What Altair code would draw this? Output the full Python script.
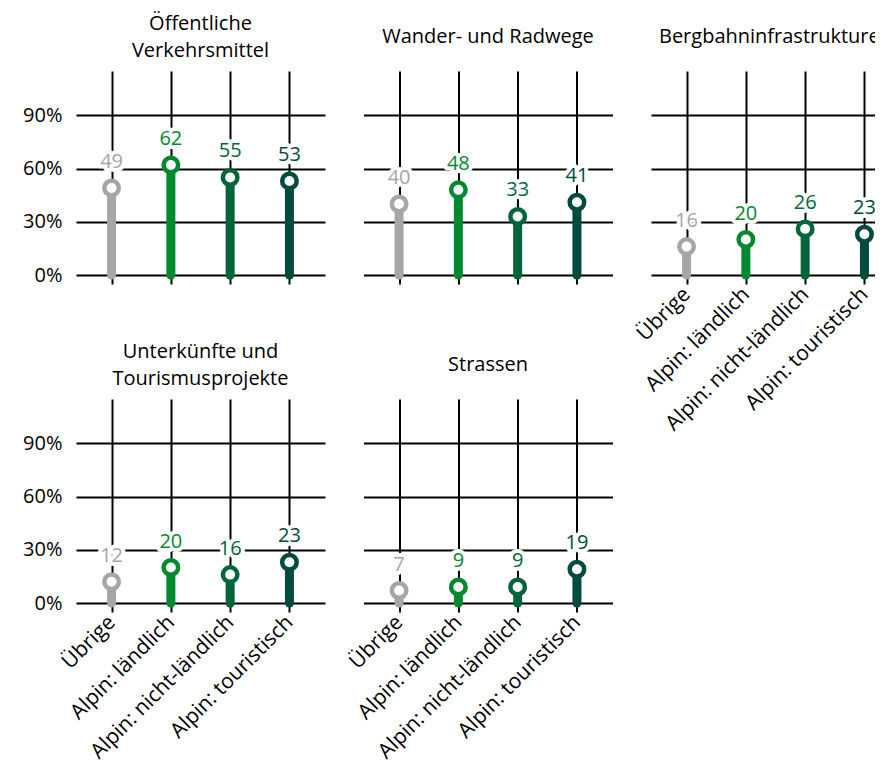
import altair as alt
import pandas as pd

categories = ["Übrige", "Alpin: ländlich", "Alpin: nicht-ländlich", "Alpin: touristisch"]
colors = ["#A6A6A6", "#00892F", "#00663A", "#004A3F"]

titles = [
    ["Öffentliche", "Verkehrsmittel"],
    ["Wander- und Radwege"],
    ["Bergbahninfrastrukturen"],
    ["Unterkünfte und", "Tourismusprojekte"],
    ["Strassen"],
]
values_oev = [49, 62, 55, 53]
values_wander = [40, 48, 33, 41]
values_bergbahn = [16, 20, 26, 23]
values_unterkunft = [12, 20, 16, 23]
values_strassen = [7, 9, 9, 19]
y_ticks = [0, 30, 60, 90]

FONT = "Open Sans"
FS = 20
W, H = 249, 204
YMAX = 115
LINE = 2


def panel(vals, title, show_x, show_y):
    df = pd.DataFrame({"cat": categories, "val": vals})
    x = alt.X(
        "cat:N",
        sort=categories,
        scale=alt.Scale(type="point", padding=0.6),
        axis=alt.Axis(
            title=None, labels=show_x, labelAngle=315, labelAlign="right",
            labelBaseline="middle", ticks=True, tickSize=9, tickColor="black",
            tickWidth=LINE, grid=True, gridColor="black", gridWidth=LINE,
            domain=False, labelFont=FONT, labelFontSize=21, labelColor="black",
            labelPadding=7, labelLimit=0,
        ),
    )
    y = alt.Y(
        "val:Q",
        scale=alt.Scale(domain=[0, YMAX], nice=False, zero=True),
        axis=alt.Axis(
            title=None, values=y_ticks, labelExpr="datum.value + '%'",
            labels=show_y, ticks=False, domain=False, grid=True,
            gridColor="black", gridWidth=LINE, labelPadding=14,
            labelFont=FONT, labelFontSize=FS, labelColor="black",
        ),
    )
    col = alt.Color("cat:N", scale=alt.Scale(domain=categories, range=colors), legend=None)
    base = alt.Chart(df)
    stem = base.mark_rule(strokeWidth=9, strokeCap="round").encode(
        x=x, y=y, y2=alt.datum(0), color=col)
    dot = base.mark_point(shape="circle", fill="white", fillOpacity=1, opacity=1,
                          strokeWidth=4.5, size=210).encode(x=x, y=y, stroke=col)
    halo = base.mark_text(dy=-20, baseline="alphabetic", font=FONT, fontSize=FS,
                          stroke="white", strokeWidth=8, strokeJoin="round",
                          fill="white").encode(x=x, y=y, text="val:Q")
    label = base.mark_text(dy=-20, baseline="alphabetic", font=FONT, fontSize=FS).encode(
        x=x, y=y, text="val:Q", color=col)
    off = -10 if len(title) > 1 else 4
    return alt.layer(stem, dot, halo, label).properties(
        width=W, height=H,
        title=alt.TitleParams(text=title, font=FONT, fontSize=FS, fontWeight="normal",
                              color="black", anchor="middle", frame="group",
                              baseline="bottom", lineHeight=27, offset=off),
    )


p1 = panel(values_oev, titles[0], False, True)
p2 = panel(values_wander, titles[1], False, False)
p3 = panel(values_bergbahn, titles[2], True, False)
p4 = panel(values_unterkunft, titles[3], True, True)
p5 = panel(values_strassen, titles[4], True, False)

chart = alt.concat(
    p1, p2, p3, p4, p5, columns=3,
    spacing={"row": 124, "column": 38.5}, bounds="flush",
).properties(
    padding={"left": 14, "top": 6, "right": -25, "bottom": 6}
).configure_view(stroke=None)

chart.save("out.html", embed_options={"renderer": "svg", "actions": False})
